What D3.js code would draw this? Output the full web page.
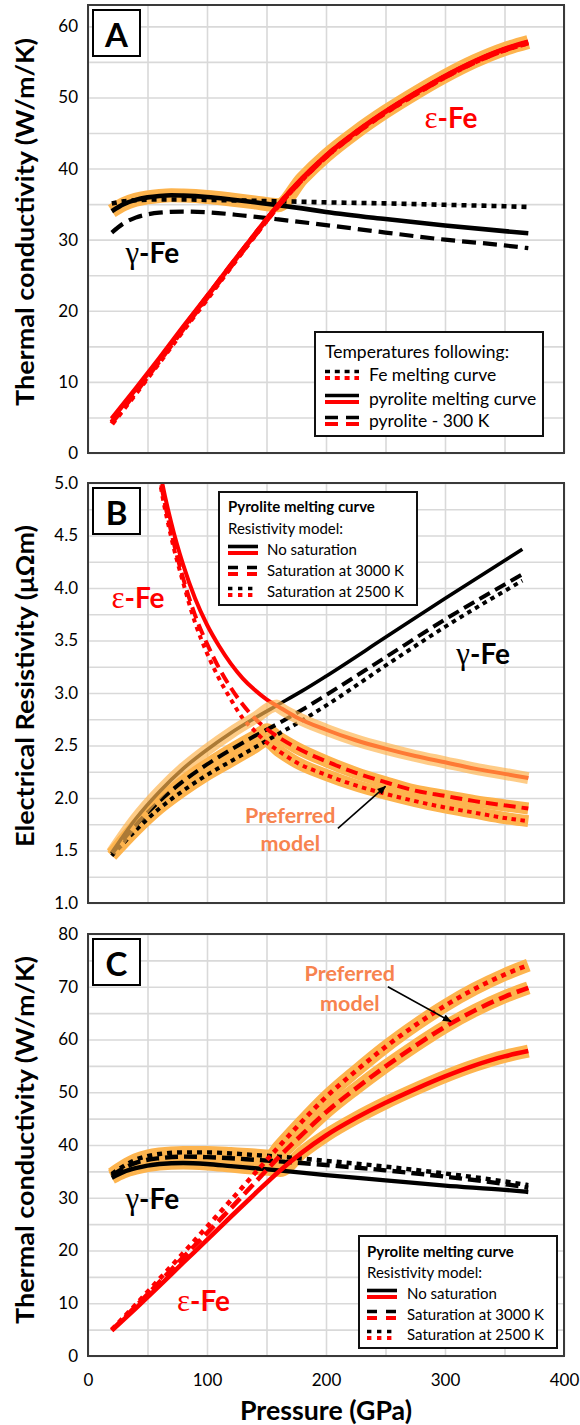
<!DOCTYPE html>
<html><head><meta charset="utf-8">
<script src="https://cdn.jsdelivr.net/npm/d3@7"></script>
<style>
html,body{margin:0;padding:0;background:#fff;}
svg{display:block;font-family:Lato,"Open Sans",sans-serif;}
</style></head><body>
<svg id="chart" width="580" height="1425"></svg>
<script>
// ---------- Panel A: thermal conductivity (W/m/K) vs pressure (GPa) ----------
const gammaA_pyrolite = [[20,34.0],[30,35.0],[40,35.6],[50,35.95],[60,36.15],[70,36.25],[80,36.2],[100,36.0],[120,35.65],[140,35.25],[160,34.85],[180,34.4],[200,33.9],[250,32.9],[300,32.0],[350,31.2],[370,30.9]];
const gammaA_feMelt   = [[20,35.1],[30,35.4],[40,35.55],[60,35.65],[80,35.65],[100,35.6],[130,35.5],[160,35.4],[200,35.25],[250,35.1],[300,34.9],[350,34.7],[370,34.6]];
const gammaA_300K     = [[20,31.0],[30,32.3],[40,33.1],[50,33.55],[60,33.8],[80,33.95],[100,33.85],[130,33.4],[160,32.85],[200,32.05],[250,31.0],[300,30.0],[350,29.2],[370,28.8]];
const epsA_pyrolite   = [[20,4.8],[40,9.0],[60,13.3],[80,17.7],[100,22.0],[120,26.4],[140,30.7],[160,34.9],[180,38.6],[200,41.8],[225,45.1],[250,48.0],[275,50.6],[300,53.0],[325,55.1],[350,56.8],[370,57.8]];
const epsA_feMelt     = [[20,4.1],[40,8.4],[60,12.8],[80,17.3],[100,21.7],[120,26.2],[140,30.6],[160,34.8],[180,38.5],[200,41.7],[225,45.0],[250,47.9],[275,50.5],[300,52.9],[325,55.0],[350,56.7],[370,57.7]];
const epsA_300K       = [[20,4.3],[40,8.6],[60,13.0],[80,17.5],[100,21.9],[120,26.3],[140,30.6],[160,34.8],[180,38.5],[200,41.7],[225,45.0],[250,47.9],[275,50.5],[300,52.9],[325,55.0],[350,56.7],[370,57.7]];

// ---------- Panel B: electrical resistivity (µΩm) ----------
const gammaB_noSat   = [[20,1.48],[40,1.80],[60,2.06],[80,2.28],[100,2.46],[120,2.62],[140,2.76],[160,2.89],[180,3.02],[200,3.16],[250,3.53],[300,3.90],[365,4.37]];
const gammaB_sat3000 = [[20,1.47],[40,1.74],[60,1.97],[80,2.16],[100,2.32],[120,2.46],[140,2.59],[160,2.71],[180,2.84],[200,2.98],[250,3.34],[300,3.70],[365,4.13]];
const gammaB_sat2500 = [[20,1.45],[40,1.69],[60,1.90],[80,2.07],[100,2.22],[120,2.35],[140,2.48],[160,2.61],[180,2.74],[200,2.88],[250,3.26],[300,3.63],[365,4.07]];
const epsB_noSat     = [[55,5.55],[60,5.15],[70,4.62],[80,4.22],[90,3.90],[100,3.65],[110,3.45],[120,3.28],[130,3.14],[140,3.03],[150,2.94],[160,2.87],[175,2.77],[200,2.65],[225,2.55],[250,2.47],[275,2.40],[300,2.34],[325,2.28],[350,2.23],[370,2.19]];
const epsB_sat3000   = [[55,5.49],[60,5.09],[70,4.53],[80,4.09],[90,3.74],[100,3.47],[110,3.24],[120,3.05],[130,2.89],[140,2.76],[150,2.66],[160,2.58],[175,2.48],[200,2.35],[225,2.24],[250,2.15],[275,2.07],[300,2.02],[325,1.97],[350,1.93],[370,1.90]];
const epsB_sat2500   = [[55,5.47],[60,5.05],[70,4.48],[80,4.05],[90,3.67],[100,3.38],[110,3.14],[120,2.94],[130,2.76],[140,2.64],[150,2.53],[160,2.45],[175,2.34],[200,2.22],[225,2.12],[250,2.04],[275,1.97],[300,1.91],[325,1.86],[350,1.81],[370,1.78]];

// ---------- Panel C: thermal conductivity (W/m/K) ----------
const gammaC_noSat   = [[20,33.8],[30,34.9],[40,35.6],[50,36.1],[60,36.4],[80,36.6],[100,36.4],[120,36.0],[140,35.6],[160,35.2],[200,34.3],[250,33.3],[300,32.3],[350,31.5],[370,31.1]];
const gammaC_sat3000 = [[20,34.2],[30,35.6],[40,36.6],[50,37.2],[60,37.5],[80,37.8],[100,37.7],[120,37.5],[140,37.2],[160,36.9],[200,36.2],[250,35.2],[300,34.0],[350,32.6],[370,31.9]];
const gammaC_sat2500 = [[20,34.5],[30,36.0],[40,37.2],[50,37.9],[60,38.3],[80,38.6],[100,38.6],[120,38.4],[140,38.1],[160,37.8],[200,37.0],[250,35.9],[300,34.6],[350,33.1],[370,32.4]];
const epsC_noSat     = [[20,4.8],[40,9.0],[60,13.3],[80,17.7],[100,22.0],[120,26.4],[140,30.7],[160,34.9],[180,38.6],[200,41.8],[225,45.1],[250,48.0],[275,50.6],[300,53.0],[325,55.1],[350,56.8],[370,57.8]];
const epsC_sat3000   = [[20,4.9],[40,9.4],[60,14.0],[80,18.7],[100,23.3],[120,28.0],[140,32.8],[160,37.6],[180,42.0],[200,46.2],[225,50.7],[250,54.9],[275,58.8],[300,62.4],[325,65.5],[350,68.1],[370,69.8]];
const epsC_sat2500   = [[20,5.0],[40,9.7],[60,14.6],[80,19.5],[100,24.5],[120,29.5],[140,34.6],[160,39.6],[180,44.5],[200,49.1],[225,54.0],[250,58.6],[275,62.7],[300,66.4],[325,69.6],[350,72.3],[370,74.1]];

// ---------- Axis ticks ----------
const xTickLabels = [0,100,200,300,400];
const xGridValues = [0,50,100,150,200,250,300,350,400];
const yTicksA = [0,10,20,30,40,50,60];
const yTicksB = [1.0,1.5,2.0,2.5,3.0,3.5,4.0,4.5,5.0];
const yTicksC = [0,10,20,30,40,50,60,70,80];

const svg = d3.select("#chart");
const RED = "#FF0000", BAND = "#FDB44E", PREF = "#F7834F";
const FONT = "Lato, 'Open Sans', sans-serif";

const x = d3.scaleLinear().domain([0,400]).range([88,564]);
const plotW = x(400) - x(0);

// arrowhead
svg.append("defs").append("marker")
  .attr("id","arrowHead").attr("viewBox","0 0 10 10").attr("refX",9).attr("refY",5)
  .attr("markerWidth",9).attr("markerHeight",9).attr("markerUnits","userSpaceOnUse")
  .attr("orient","auto")
  .append("path").attr("d","M0,1 L10,5 L0,9 z").attr("fill","#000");

function interp(series, p) {
  for (let i = 0; i < series.length - 1; i++) {
    const [p0,v0] = series[i], [p1,v1] = series[i+1];
    if (p >= p0 && p <= p1) return v0 + (v1 - v0) * (p - p0) / (p1 - p0);
  }
  return null;
}

// envelope of two curves: the gamma branch up to their crossing, then the epsilon branch
function envelope(gam, eps) {
  const lo = Math.max(gam[0][0], eps[0][0]);
  const hi = Math.min(gam[gam.length-1][0], eps[eps.length-1][0]);
  let pc = lo, prev = interp(gam, lo) - interp(eps, lo);
  for (let p = lo; p <= hi; p += 0.25) {
    const d = interp(gam, p) - interp(eps, p);
    if (Math.sign(d) !== Math.sign(prev)) { pc = p; break; }
    prev = d;
  }
  const vc = interp(gam, pc);
  return gam.filter(d => d[0] < pc - 1).concat([[pc, vc]], eps.filter(d => d[0] > pc + 1));
}

function panel(cfg) {
  const g = svg.append("g");
  const y = d3.scaleLinear().domain(cfg.domain).range([cfg.bottom, cfg.top]);
  const h = cfg.bottom - cfg.top;
  const clipId = "clip" + cfg.name;
  svg.select("defs").append("clipPath").attr("id", clipId)
    .append("rect").attr("x", x(0)).attr("y", cfg.top).attr("width", plotW).attr("height", h);

  // grid
  g.append("g").attr("transform", `translate(0,${cfg.bottom})`)
    .call(d3.axisBottom(x).tickValues(xGridValues).tickSize(-h).tickFormat(""))
    .call(s => { s.select(".domain").remove(); s.selectAll("line").attr("stroke","#D9D9D9").attr("stroke-width",1.6); });
  g.append("g").attr("transform", `translate(${x(0)},0)`)
    .call(d3.axisLeft(y).tickValues(cfg.grid).tickSize(-plotW).tickFormat(""))
    .call(s => { s.select(".domain").remove(); s.selectAll("line").attr("stroke","#D9D9D9").attr("stroke-width",1.6); });

  // y tick labels
  g.append("g").attr("transform", `translate(${x(0)},0)`)
    .call(d3.axisLeft(y).tickValues(cfg.ticks).tickSize(0).tickPadding(10).tickFormat(cfg.fmt))
    .call(s => { s.select(".domain").remove();
      s.attr("font-family", null).attr("font-size", null);
      s.selectAll("text").attr("font-family", FONT).attr("font-size", 17).attr("fill","#000"); });

  // y title
  g.append("text")
    .attr("transform", `translate(24,${cfg.titleY}) rotate(-90)`)
    .attr("text-anchor","middle").attr("dominant-baseline","central")
    .attr("font-family", FONT).attr("font-weight","bold").attr("font-size", 25)
    .attr("textLength", cfg.titleLen).attr("lengthAdjust","spacingAndGlyphs")
    .text(cfg.yTitle);

  const plot = g.append("g").attr("clip-path", `url(#${clipId})`);
  const line = d3.line().x(d => x(d[0])).y(d => y(d[1])).curve(d3.curveMonotoneX);
  return {g, plot, y, line, cfg};
}

function drawLine(P, data, color, width, dash, opacity) {
  P.plot.append("path").attr("d", P.line(data))
    .attr("fill","none").attr("stroke", color).attr("stroke-width", width)
    .attr("stroke-dasharray", dash || null).attr("stroke-linejoin","round")
    .attr("opacity", opacity == null ? 1 : opacity);
}

function frame(P) {
  const c = P.cfg;
  P.g.append("rect").attr("x", x(0)).attr("y", c.top).attr("width", plotW).attr("height", c.bottom - c.top)
    .attr("fill","none").attr("stroke","#3A3A3A").attr("stroke-width",2);
  // panel letter box
  P.g.append("rect").attr("x", x(0) + 5).attr("y", c.top + 5).attr("width", 47).attr("height", 46)
    .attr("fill","#fff").attr("stroke","#000").attr("stroke-width",2);
  P.g.append("text").attr("x", x(0) + 28.5).attr("y", c.top + 29)
    .attr("text-anchor","middle").attr("dominant-baseline","central")
    .attr("font-family", FONT).attr("font-weight","bold").attr("font-size", 33).text(c.name);
}

function phaseLabel(P, greek, pos, color) {
  const t = P.g.append("text").attr("x", x(pos[0])).attr("y", P.y(pos[1]))
    .attr("text-anchor","middle").attr("dominant-baseline","central").attr("fill", color);
  t.append("tspan").attr("font-family","'Liberation Serif','DejaVu Serif',serif").attr("font-size", 31).text(greek);
  t.append("tspan").attr("font-family", FONT).attr("font-weight","bold").attr("font-size", 28).text("-Fe");
}

function preferred(P, pos1, pos2, from, to) {
  [["Preferred", pos1], ["model", pos2]].forEach(([s, p]) => {
    P.g.append("text").attr("x", x(p[0])).attr("y", P.y(p[1]))
      .attr("text-anchor","middle").attr("dominant-baseline","central")
      .attr("font-family", FONT).attr("font-weight","bold").attr("font-size", 21.5)
      .attr("fill", PREF).text(s);
  });
  P.g.append("line").attr("x1", x(from[0])).attr("y1", P.y(from[1]))
    .attr("x2", x(to[0])).attr("y2", P.y(to[1]))
    .attr("stroke","#000").attr("stroke-width",1.6).attr("marker-end","url(#arrowHead)");
}

function legend(g, box, heads, rows, sample, fs) {
  g.append("rect").attr("x", box.x).attr("y", box.y).attr("width", box.w).attr("height", box.h)
    .attr("fill","#fff").attr("stroke","#111").attr("stroke-width",2);
  heads.forEach(hd => g.append("text").attr("x", sample.x).attr("y", hd.y)
    .attr("dominant-baseline","central").attr("font-family", FONT).attr("font-size", fs)
    .attr("font-weight", hd.bold ? "bold" : "normal").text(hd.text));
  rows.forEach(r => {
    [["#000", -2.5, 3.6], [RED, 4, 4]].forEach(([col, off, w]) => {
      g.append("line").attr("x1", sample.x).attr("x2", sample.x + sample.w)
        .attr("y1", r.y + off).attr("y2", r.y + off)
        .attr("stroke", col).attr("stroke-width", w).attr("stroke-dasharray", r.dash || null);
    });
    g.append("text").attr("x", sample.tx).attr("y", r.y).attr("dominant-baseline","central")
      .attr("font-family", FONT).attr("font-size", fs).text(r.label);
  });
}

// ================= Panel A =================
const A = panel({name:"A", top:5, bottom:453, domain:[0,63], ticks:yTicksA,
  grid:d3.range(0,61,5), fmt:d3.format("d"), yTitle:"Thermal conductivity (W/m/K)", titleY:222, titleLen:368});
drawLine(A, envelope(gammaA_pyrolite, epsA_pyrolite), BAND, 14);
drawLine(A, gammaA_300K, "#000", 4.2, "14,7");
drawLine(A, gammaA_feMelt, "#000", 4.6, "5,5");
drawLine(A, gammaA_pyrolite, "#000", 4.6);
drawLine(A, epsA_300K, RED, 5.5, "14,7");
drawLine(A, epsA_feMelt, RED, 5.5, "5,5");
drawLine(A, epsA_pyrolite, RED, 5);
frame(A);
phaseLabel(A, "ε", [305, 47.3], RED);
phaseLabel(A, "γ", [54, 28.3], "#000");
legend(A.g, {x:315, y:332, w:228, h:104},
  [{text:"Temperatures following:", y:351}],
  [{y:374, label:"Fe melting curve", dash:"5,4.8"},
   {y:398, label:"pyrolite melting curve"},
   {y:420, label:"pyrolite - 300 K", dash:"13,8"}],
  {x:325, w:34, tx:369}, 17.5);

// ================= Panel B =================
const B = panel({name:"B", top:483, bottom:903, domain:[1,5], ticks:yTicksB,
  grid:d3.range(1,5.001,0.25), fmt:d3.format(".1f"), yTitle:"Electrical Resistivity (μΩm)", titleY:686, titleLen:322});
drawLine(B, envelope(gammaB_sat3000, epsB_sat3000), BAND, 12);
drawLine(B, envelope(gammaB_sat2500, epsB_sat2500), BAND, 12);
drawLine(B, gammaB_sat2500, "#000", 4, "4.5,4.5");
drawLine(B, gammaB_sat3000, "#000", 4, "12,6");
drawLine(B, gammaB_noSat, "#000", 3.6);
drawLine(B, epsB_sat2500, RED, 4, "4.5,4.5");
drawLine(B, epsB_sat3000, RED, 4, "12,6");
drawLine(B, epsB_noSat, RED, 4);
drawLine(B, envelope(gammaB_noSat, epsB_noSat), BAND, 12, null, 0.68);
frame(B);
phaseLabel(B, "ε", [42, 3.91], RED);
phaseLabel(B, "γ", [332, 3.38], "#000");
preferred(B, [170, 1.84], [170, 1.57], [210, 1.71], [250, 2.11]);
legend(B.g, {x:219, y:492, w:198, h:113},
  [{text:"Pyrolite melting curve", y:506, bold:true}, {text:"Resistivity model:", y:528}],
  [{y:549, label:"No saturation"},
   {y:570, label:"Saturation at 3000 K", dash:"10,9"},
   {y:591, label:"Saturation at 2500 K", dash:"4.4,5.6"}],
  {x:228, w:30, tx:267}, 15);

// ================= Panel C =================
const C = panel({name:"C", top:934, bottom:1356, domain:[0,80], ticks:yTicksC,
  grid:d3.range(0,81,5), fmt:d3.format("d"), yTitle:"Thermal conductivity (W/m/K)", titleY:1140, titleLen:368});
drawLine(C, envelope(gammaC_noSat, epsC_noSat), BAND, 13);
drawLine(C, envelope(gammaC_sat3000, epsC_sat3000), BAND, 13);
drawLine(C, envelope(gammaC_sat2500, epsC_sat2500), BAND, 13);
drawLine(C, gammaC_noSat, "#000", 4.4);
drawLine(C, gammaC_sat3000, "#000", 4.4, "13,6");
drawLine(C, gammaC_sat2500, "#000", 4.4, "5,5");
drawLine(C, epsC_noSat, RED, 4.6);
drawLine(C, epsC_sat3000, RED, 4.6, "13,6");
drawLine(C, epsC_sat2500, RED, 4.6, "5,5");
frame(C);
phaseLabel(C, "γ", [54, 30.0], "#000");
phaseLabel(C, "ε", [97, 10.6], RED);
preferred(C, [220, 72.6], [220, 66.9], [252, 70.0], [305, 63.4]);
legend(C.g, {x:359, y:1236, w:198, h:112},
  [{text:"Pyrolite melting curve", y:1251, bold:true}, {text:"Resistivity model:", y:1272}],
  [{y:1293, label:"No saturation"},
   {y:1314, label:"Saturation at 3000 K", dash:"10,9"},
   {y:1334, label:"Saturation at 2500 K", dash:"4.4,5.6"}],
  {x:367, w:30, tx:407}, 15);

// x axis labels and title (bottom panel only)
svg.append("g").attr("transform", `translate(0,${C.cfg.bottom})`)
  .call(d3.axisBottom(x).tickValues(xTickLabels).tickSize(0).tickPadding(18).tickFormat(d3.format("d")))
  .call(s => { s.select(".domain").remove(); s.attr("font-family", null).attr("font-size", null);
    s.selectAll("text").attr("font-family", FONT).attr("font-size", 17).attr("fill","#000"); });
svg.append("text").attr("x", (x(0) + x(400)) / 2).attr("y", 1410)
  .attr("text-anchor","middle").attr("dominant-baseline","central")
  .attr("font-family", FONT).attr("font-weight","bold").attr("font-size", 26)
  .attr("textLength", 172).attr("lengthAdjust","spacingAndGlyphs")
  .text("Pressure (GPa)");
</script>
</body></html>
